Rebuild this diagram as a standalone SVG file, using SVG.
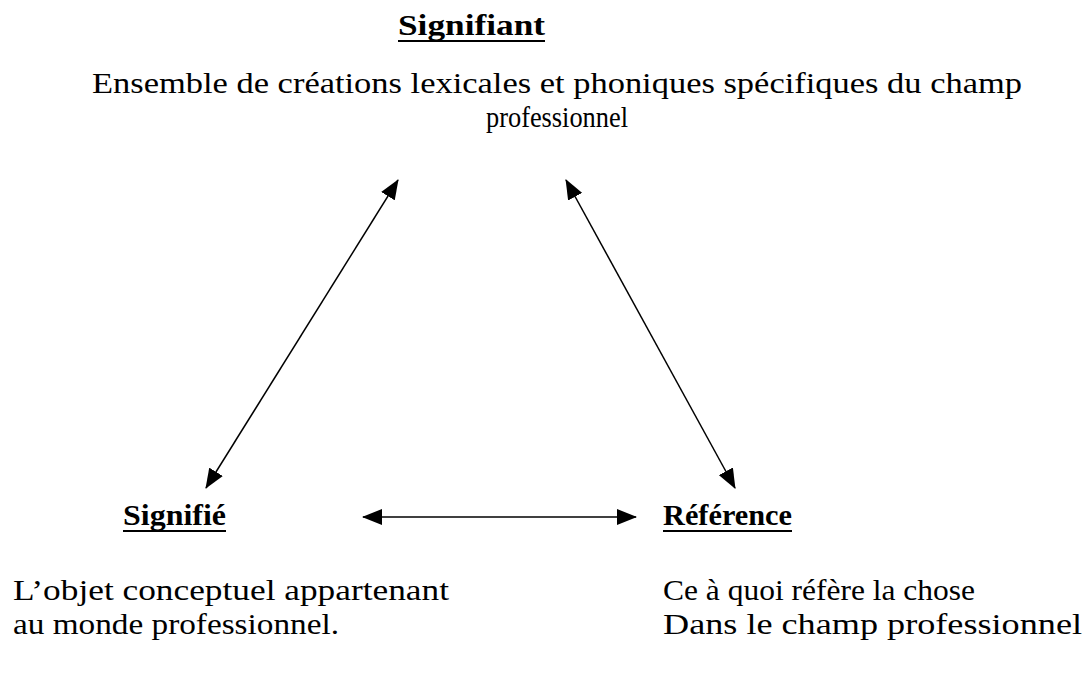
<svg xmlns="http://www.w3.org/2000/svg" width="1088" height="674" viewBox="0 0 1088 674">
<style>
.t{font-family:"Liberation Serif","DejaVu Serif",serif;font-size:30px;fill:#000}
.h{font-family:"Liberation Serif","DejaVu Serif",serif;font-size:29px;font-weight:bold;fill:#000}
.u{stroke:#000;stroke-width:2}
.c{stroke:#000;stroke-width:1.5;fill:none;marker-start:url(#ah);marker-end:url(#ah)}
</style>
<defs>
<marker id="ah" viewBox="0 0 20 16" refX="19" refY="8" markerWidth="20" markerHeight="16" markerUnits="userSpaceOnUse" orient="auto-start-reverse">
<path d="M0,0 L20,8 L0,16 Z" fill="#000"/>
</marker>
</defs>
<rect width="1088" height="674" fill="#fff"/>
<g id="signifiant">
<text class="h" x="398" y="35" textLength="147" lengthAdjust="spacingAndGlyphs">Signifiant</text>
<line class="u" x1="398" y1="41" x2="545" y2="41"/>
<text class="t" x="92" y="93" textLength="930" lengthAdjust="spacingAndGlyphs">Ensemble de créations lexicales et phoniques spécifiques du champ</text>
<text class="t" x="486" y="127" textLength="142" lengthAdjust="spacingAndGlyphs">professionnel</text>
</g>
<g id="signifie">
<text class="h" x="123" y="525" textLength="103" lengthAdjust="spacingAndGlyphs">Signifié</text>
<line class="u" x1="123" y1="531" x2="226" y2="531"/>
<text class="t" x="13" y="600" textLength="436" lengthAdjust="spacingAndGlyphs">L’objet conceptuel appartenant</text>
<text class="t" x="13" y="634" textLength="326" lengthAdjust="spacingAndGlyphs">au monde professionnel.</text>
</g>
<g id="reference">
<text class="h" x="663" y="525" textLength="129" lengthAdjust="spacingAndGlyphs">Référence</text>
<line class="u" x1="663" y1="531" x2="792" y2="531"/>
<text class="t" x="663" y="600" textLength="312" lengthAdjust="spacingAndGlyphs">Ce à quoi réfère la chose</text>
<text class="t" x="663" y="634" textLength="419" lengthAdjust="spacingAndGlyphs">Dans le champ professionnel</text>
</g>
<g id="connectors">
<line class="c" x1="398" y1="180" x2="206" y2="488"/>
<line class="c" x1="566" y1="180" x2="735" y2="488"/>
<line class="c" x1="363" y1="517" x2="636" y2="517"/>
</g>
</svg>
